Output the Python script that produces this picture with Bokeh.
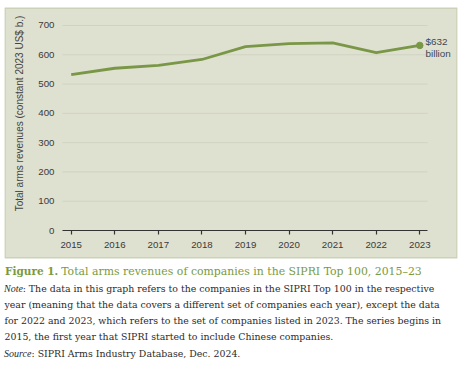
from bokeh.plotting import figure
from bokeh.models import Label, Range1d, FixedTicker, BoxAnnotation
from bokeh.embed import file_html
from bokeh.resources import INLINE
from math import pi

# ---------------- data ----------------
years = [2015, 2016, 2017, 2018, 2019, 2020, 2021, 2022, 2023]
revenues = [532, 554, 564, 584, 628, 638, 641, 607, 632]
y_ticks = [0, 100, 200, 300, 400, 500, 600, 700]
y_axis_title = "Total arms revenues (constant 2023 US$ b.)"
end_unit = "billion"
fig_label = "Figure 1."
fig_title = "Total arms revenues of companies in the SIPRI Top 100, 2015\u201323"
note_label = "Note"
note_lines = [
    ": The data in this graph refers to the companies in the SIPRI Top 100 in the respective",
    "year (meaning that the data covers a different set of companies each year), except the data",
    "for 2022 and 2023, which refers to the set of companies listed in 2023. The series begins in",
    "2015, the first year that SIPRI started to include Chinese companies.",
]
source_label = "Source"
source_text = ": SIPRI Arms Industry Database, Dec. 2024."

# ---------------- styles ----------------
GREEN = "#7a9748"
PANEL = "#dfe1d0"
PANEL_EDGE = "#8ea267"
GRID = "#d0d3c0"
CAP_GREEN = "#7b9a40"
TXT = "#2b2b2b"
SANS = "Liberation Sans"
SERIF = "DejaVu Serif"
SERIF_I = "Liberation Serif"

# page geometry: the canvas is the whole frame, page pixels = "px"/"py" ranges
W, H = 470, 366
PPX = 43.575            # pixels per year
PPY = 0.29286           # pixels per unit of revenue
X_AT0 = 2015 - 70.7 / PPX       # year at page x = 0
Y_AT0 = 230 / PPY               # revenue at page y = 0


def yr(px):
    return X_AT0 + px / PPX


p = figure(width=W, height=H, output_backend="svg", toolbar_location=None,
           x_range=Range1d(X_AT0, X_AT0 + W / PPX),
           y_range=Range1d(Y_AT0 - H / PPY, Y_AT0),
           min_border=0)
p.extra_x_ranges = {"px": Range1d(0, W)}
p.extra_y_ranges = {"py": Range1d(H, 0)}
p.border_fill_color = "white"
p.background_fill_color = "white"
p.outline_line_color = None
p.xgrid.grid_line_color = None
p.ygrid.grid_line_color = None

# chart panel
p.add_layout(BoxAnnotation(left=4.5, right=456.5, top=7.5, bottom=257.5,
                           x_range_name="px", y_range_name="py",
                           fill_color=PANEL, fill_alpha=1.0, line_color=PANEL_EDGE,
                           line_width=1.3, level="image"))

x_lo, x_hi = yr(62), yr(427)     # horizontal extent of the plotting area

# horizontal grid lines
p.segment(x0=[x_lo] * (len(y_ticks) - 1), x1=[x_hi] * (len(y_ticks) - 1),
          y0=y_ticks[1:], y1=y_ticks[1:], line_color=GRID, line_width=1)

xa = p.xaxis[0]
xa.fixed_location = 0
xa.bounds = (x_lo, x_hi)
xa.ticker = FixedTicker(ticks=years)
xa.axis_line_color = "#333333"
xa.axis_line_width = 1.2
xa.major_tick_line_color = "#333333"
xa.major_tick_line_width = 1.2
xa.major_tick_out = 4
xa.major_tick_in = 0
xa.minor_tick_line_color = None
xa.major_label_standoff = 7
xa.major_label_text_font = SANS
xa.major_label_text_font_size = "9.7px"
xa.major_label_text_color = "#3a3a3a"

ya = p.yaxis[0]
ya.fixed_location = x_lo
ya.bounds = (0, 700)
ya.ticker = FixedTicker(ticks=y_ticks)
ya.axis_line_color = None
ya.major_tick_line_color = None
ya.minor_tick_line_color = None
ya.major_tick_out = 0
ya.major_tick_in = 0
ya.major_label_standoff = 8
ya.major_label_text_font = SANS
ya.major_label_text_font_size = "9.7px"
ya.major_label_text_color = "#3a3a3a"

p.line(years, revenues, line_color=GREEN, line_width=2.8, line_join="round")
p.scatter([years[-1]], [revenues[-1]], size=6.5, fill_color=GREEN, line_color=GREEN)


def lab(x, y, text, size, font, color=TXT, style="normal", align="left",
        baseline="alphabetic", angle=0.0):
    p.add_layout(Label(x=x, y=y, x_range_name="px", y_range_name="py", text=text,
                       text_align=align, text_baseline=baseline, angle=angle,
                       text_font=font, text_font_style=style, text_font_size=size,
                       text_color=color))


# texts inside the panel
lab(19, 113, y_axis_title, "10px", SANS, "#444444", align="center",
    baseline="middle", angle=pi / 2)
lab(425, 41, f"${revenues[-1]}", "9.9px", SANS, "#3d4753", baseline="middle")
lab(425, 52.7, end_unit, "9.9px", SANS, "#3d4753", baseline="middle")

# caption
lab(4.5, 270.5, fig_label, "10.5px", SERIF, CAP_GREEN, "bold")
lab(60.7, 270.5, fig_title, "10.9px", SERIF, CAP_GREEN)
note_base = [288, 304, 320, 336]
lab(3.5, note_base[0], note_label, "10px", SERIF_I, style="italic")
for i, line in enumerate(note_lines):
    lab(22.2 if i == 0 else 4, note_base[i], line, "9.4px", SERIF)
lab(3.5, 353, source_label, "10px", SERIF_I, style="italic")
lab(31, 353, source_text, "9.4px", SERIF)

open("out.html", "w").write(file_html(p, INLINE))
